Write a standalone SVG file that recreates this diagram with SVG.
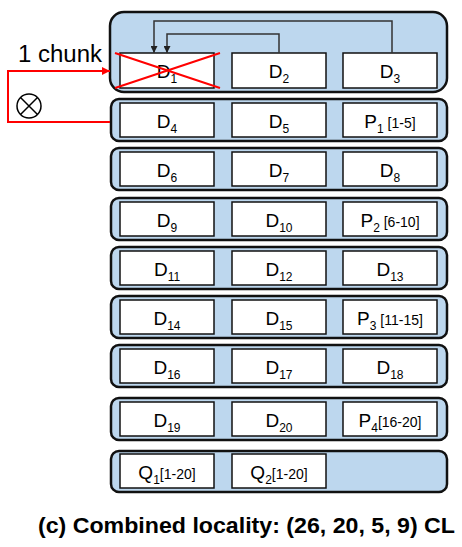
<svg xmlns="http://www.w3.org/2000/svg" width="462" height="547" viewBox="0 0 462 547">
<style>
.row{fill:#BDD7EE;stroke:#111;stroke-width:2.5}
.box{fill:#fff;stroke:#111;stroke-width:1.5}
.t{font-family:"Liberation Sans",Arial,sans-serif;font-size:19px;fill:#000;text-anchor:middle}
.s{font-size:12px}
.r{font-size:14px}
.con{fill:none;stroke:#333;stroke-width:1.5}
.red{fill:none;stroke:#f00;stroke-width:2}
</style>
<defs>
<marker id="ah" viewBox="0 0 10 10" refX="10" refY="5" markerWidth="7" markerHeight="7" markerUnits="userSpaceOnUse" orient="auto"><path d="M0,0 L10,5 L0,10 z" fill="#222"/></marker>
<marker id="ahr" viewBox="0 0 10 10" refX="10" refY="5" markerWidth="8" markerHeight="8" markerUnits="userSpaceOnUse" orient="auto"><path d="M0,0 L10,5 L0,10 z" fill="#f00"/></marker>
</defs>
<g id="rows">
<rect class="row" x="110" y="12" width="337" height="80" rx="14"/>
<rect class="row" x="111" y="99" width="336" height="42" rx="8"/>
<rect class="row" x="111" y="148" width="336" height="42" rx="8"/>
<rect class="row" x="111" y="198" width="336" height="42" rx="8"/>
<rect class="row" x="111" y="247" width="336" height="42" rx="8"/>
<rect class="row" x="111" y="296" width="336" height="42" rx="8"/>
<rect class="row" x="111" y="345" width="336" height="42" rx="8"/>
<rect class="row" x="111" y="398" width="336" height="42" rx="8"/>
<rect class="row" x="111" y="451" width="336" height="41" rx="8"/>
</g>
<g id="D1"><rect class="box" x="120" y="53" width="94" height="35"/><text class="t" x="167" y="78">D<tspan class="s" dy="5">1</tspan></text></g>
<g id="D2"><rect class="box" x="232" y="53" width="94" height="35"/><text class="t" x="279" y="78">D<tspan class="s" dy="5">2</tspan></text></g>
<g id="D3"><rect class="box" x="343" y="53" width="94" height="35"/><text class="t" x="390" y="78">D<tspan class="s" dy="5">3</tspan></text></g>

<g id="D4"><rect class="box" x="120" y="103" width="94" height="34"/><text class="t" x="167" y="128">D<tspan class="s" dy="5">4</tspan></text></g>
<g id="D5"><rect class="box" x="232" y="103" width="94" height="34"/><text class="t" x="279" y="128">D<tspan class="s" dy="5">5</tspan></text></g>
<g id="P1"><rect class="box" x="343" y="103" width="94" height="34"/><text class="t" x="390" y="128">P<tspan class="s" dy="5">1</tspan><tspan class="r" dy="-5"> [1-5]</tspan></text></g>

<g id="D6"><rect class="box" x="120" y="152" width="94" height="34"/><text class="t" x="167" y="177">D<tspan class="s" dy="5">6</tspan></text></g>
<g id="D7"><rect class="box" x="232" y="152" width="94" height="34"/><text class="t" x="279" y="177">D<tspan class="s" dy="5">7</tspan></text></g>
<g id="D8"><rect class="box" x="343" y="152" width="94" height="34"/><text class="t" x="390" y="177">D<tspan class="s" dy="5">8</tspan></text></g>

<g id="D9"><rect class="box" x="120" y="202" width="94" height="34"/><text class="t" x="167" y="227">D<tspan class="s" dy="5">9</tspan></text></g>
<g id="D10"><rect class="box" x="232" y="202" width="94" height="34"/><text class="t" x="279" y="227">D<tspan class="s" dy="5">10</tspan></text></g>
<g id="P2"><rect class="box" x="343" y="202" width="94" height="34"/><text class="t" x="390" y="227">P<tspan class="s" dy="5">2</tspan><tspan class="r" dy="-5"> [6-10]</tspan></text></g>

<g id="D11"><rect class="box" x="120" y="251" width="94" height="34"/><text class="t" x="167" y="276">D<tspan class="s" dy="5">11</tspan></text></g>
<g id="D12"><rect class="box" x="232" y="251" width="94" height="34"/><text class="t" x="279" y="276">D<tspan class="s" dy="5">12</tspan></text></g>
<g id="D13"><rect class="box" x="343" y="251" width="94" height="34"/><text class="t" x="390" y="276">D<tspan class="s" dy="5">13</tspan></text></g>

<g id="D14"><rect class="box" x="120" y="300" width="94" height="34"/><text class="t" x="167" y="325">D<tspan class="s" dy="5">14</tspan></text></g>
<g id="D15"><rect class="box" x="232" y="300" width="94" height="34"/><text class="t" x="279" y="325">D<tspan class="s" dy="5">15</tspan></text></g>
<g id="P3"><rect class="box" x="343" y="300" width="94" height="34"/><text class="t" x="390" y="325">P<tspan class="s" dy="5">3</tspan><tspan class="r" dy="-5"> [11-15]</tspan></text></g>

<g id="D16"><rect class="box" x="120" y="349" width="94" height="34"/><text class="t" x="167" y="374">D<tspan class="s" dy="5">16</tspan></text></g>
<g id="D17"><rect class="box" x="232" y="349" width="94" height="34"/><text class="t" x="279" y="374">D<tspan class="s" dy="5">17</tspan></text></g>
<g id="D18"><rect class="box" x="343" y="349" width="94" height="34"/><text class="t" x="390" y="374">D<tspan class="s" dy="5">18</tspan></text></g>

<g id="D19"><rect class="box" x="120" y="402" width="94" height="34"/><text class="t" x="167" y="427">D<tspan class="s" dy="5">19</tspan></text></g>
<g id="D20"><rect class="box" x="232" y="402" width="94" height="34"/><text class="t" x="279" y="427">D<tspan class="s" dy="5">20</tspan></text></g>
<g id="P4"><rect class="box" x="343" y="402" width="94" height="34"/><text class="t" x="390" y="427">P<tspan class="s" dy="5">4</tspan><tspan class="r" dy="-5">[16-20]</tspan></text></g>

<g id="Q1"><rect class="box" x="120" y="454" width="94" height="34"/><text class="t" x="167" y="479">Q<tspan class="s" dy="5">1</tspan><tspan class="r" dy="-5">[1-20]</tspan></text></g>
<g id="Q2"><rect class="box" x="232" y="454" width="94" height="34"/><text class="t" x="279" y="479">Q<tspan class="s" dy="5">2</tspan><tspan class="r" dy="-5">[1-20]</tspan></text></g>

<g id="connectors">
<path class="con" d="M392,53 V21 H154 V53" marker-end="url(#ah)"/>
<path class="con" d="M279,53 V34 H167 V53" marker-end="url(#ah)"/>
<path class="red" d="M115,53 L220,88 M115,88 L220,53"/>
<path class="red" d="M110,122 H8 V71 H110" marker-end="url(#ahr)"/>
</g>
<g id="xor">
<circle cx="29" cy="106" r="12" fill="none" stroke="#000" stroke-width="1.5"/>
<path d="M20.5,97.5 L37.5,114.5 M37.5,97.5 L20.5,114.5" stroke="#000" stroke-width="1.5"/>
</g>
<text x="18" y="62" font-family="'Liberation Sans',Arial,sans-serif" font-size="23" fill="#000" textLength="84" lengthAdjust="spacingAndGlyphs">1 chunk</text>
<text x="38" y="533" font-family="'Liberation Sans',Arial,sans-serif" font-size="22" font-weight="bold" fill="#000" textLength="417" lengthAdjust="spacingAndGlyphs">(c) Combined locality: (26, 20, 5, 9) CL</text>
</svg>
